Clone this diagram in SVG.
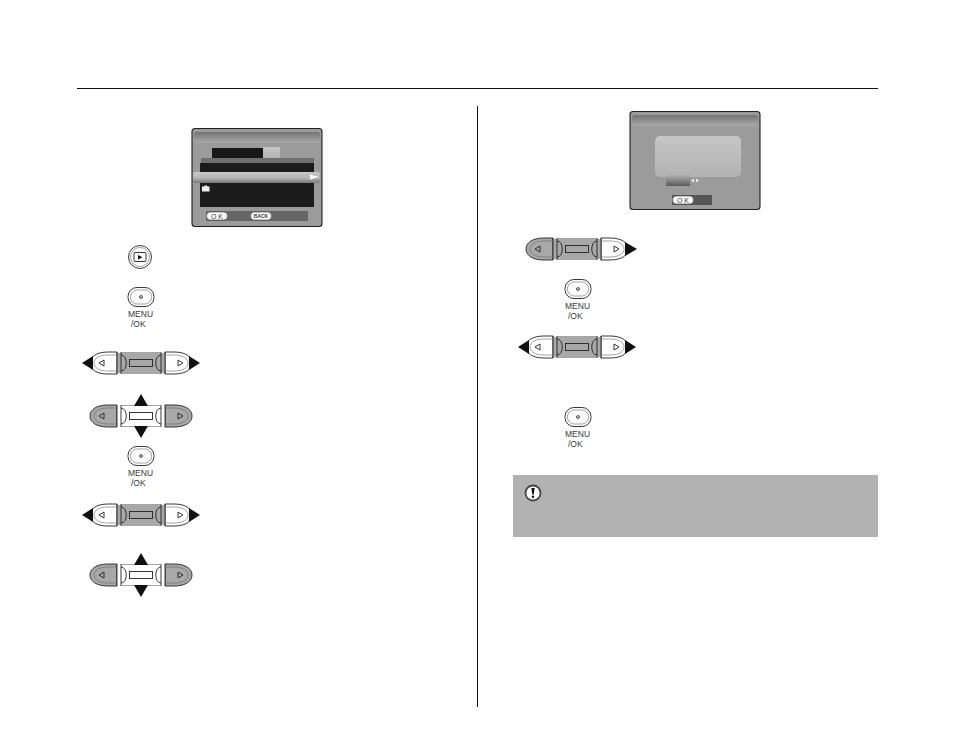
<svg xmlns="http://www.w3.org/2000/svg" width="954" height="754" viewBox="0 0 954 754">
<style>
.l{stroke:#222;stroke-width:.9;fill:none}
.s{stroke:#222;stroke-width:.9}
.i{stroke:#666;stroke-width:.6;fill:none}
.g{fill:#a8a8a8}
.w{fill:#fff}
.a{fill:#111}
.m{font-family:"Liberation Sans",Arial,sans-serif;font-size:8.500px;fill:#333}
.k{fill:#fff;stroke:#444;stroke-width:.6}
.o{font-family:"Liberation Sans",Arial,sans-serif;font-size:7px;fill:#333;text-anchor:middle}
.b{font-size:5px;font-weight:bold}
</style>
<defs>
<linearGradient id="bar" x1="0" y1="0" x2="0" y2="1"><stop offset="0" stop-color="#747474"/><stop offset=".5" stop-color="#8e8e8e"/><stop offset="1" stop-color="#aaa"/></linearGradient>
<linearGradient id="hl" x1="0" y1="0" x2="0" y2="1"><stop offset="0" stop-color="#c8c8c8"/><stop offset=".55" stop-color="#b4b4b4"/><stop offset="1" stop-color="#777"/></linearGradient>
<linearGradient id="dk" x1="0" y1="0" x2="0" y2="1"><stop offset="0" stop-color="#b0b0b0"/><stop offset="1" stop-color="#5c5c5c"/></linearGradient>
<linearGradient id="pn" x1="0" y1="0" x2="0" y2="1"><stop offset="0" stop-color="#c6c6c6"/><stop offset="1" stop-color="#b2b2b2"/></linearGradient>
<path id="capL" d="M-24-11H-33C-45-11-51-6-51 0S-45 11-33 11H-24V-11Z"/>
<path id="capR" d="M24-11H33C45-11 51-6 51 0S45 11 33 11H24V-11Z"/>
<g id="det">
<path class="l" d="M-24-11V11M-20-11V11M24-11V11M20-11V11"/>
<path class="l" d="M-20-8C-13-8-13 8-20 8M20-8C13-8 13 8 20 8"/>
<path class="i" d="M-24-8H-33C-43-8-47-4-47 0S-43 8-33 8H-24M24-8H33C43-8 47-4 47 0S43 8 33 8H24"/>
<path class="l" stroke-linejoin="round" d="M-37-3L-42 0L-37 3ZM37-3L42 0L37 3Z"/>
<path class="i" d="M-20-10.500H20M-20 10.500H20"/>
</g>
<g id="padH">
<use href="#capL" class="w s"/><use href="#capR" class="w s"/>
<rect class="g" x="-24" y="-10" width="48" height="20"/>
<use href="#det"/>
<rect class="g s" x="-11.500" y="-3.500" width="23" height="7"/>
<path class="a" d="M-48-7V7L-59 0ZM48-7V7L59 0Z"/>
</g>
<g id="padV">
<use href="#capL" class="g s"/><use href="#capR" class="g s"/>
<rect class="w" x="-24" y="-11" width="48" height="22"/>
<use href="#det"/>
<rect class="w s" x="-11.500" y="-3.500" width="23" height="7"/>
<path class="a" d="M-7-10H7L0-22ZM-7 10H7L0 22Z"/>
</g>
<g id="menu">
<rect class="w s" x="-13" y="-9.500" width="26" height="19" rx="9"/>
<rect class="i" x="-10.500" y="-7" width="21" height="14" rx="6.500"/>
<circle class="l" cx="0" cy="0" r="1.400" stroke-width=".6"/>
<g opacity=".97"><text class="m" x="-13" y="20">MENU</text>
<text class="m" x="-10" y="29.500">/OK</text></g>
</g>
<g id="okb"><rect class="k" x="-10.500" y="-4" width="21" height="8" rx="4"/></g>
</defs>
<rect width="954" height="754" fill="#fff"/>
<g id="connectors"/>
<g id="rules">
<rect x="77" y="88" width="801" height="1" fill="#111"/>
<rect x="477" y="106" width="1" height="601" fill="#111"/>
</g>
<g id="screen-left">
<rect x="192" y="128.500" width="130" height="98" rx="3" fill="#9b9b9b" stroke="#222" stroke-width="1.100"/>
<rect x="194" y="132" width="126" height="11" rx="2" fill="url(#bar)"/>
<rect x="212" y="148" width="51" height="11" fill="#181818"/>
<rect x="263" y="147" width="17" height="12" fill="url(#pn)"/>
<rect x="201" y="158" width="113" height="5" fill="#6e6e6e"/>
<rect x="200" y="163" width="114" height="44" fill="#1c1c1c"/>
<rect x="193" y="172" width="127" height="11" rx="2" fill="url(#hl)"/>
<path d="M310 174.500L319 177L310 179.500Z" fill="#fff"/>
<path d="M202 186.500h2l.8-1h2l.8 1h1.900v5h-7.500Z" fill="#eee"/>
<rect x="206" y="211" width="102" height="10" fill="#666"/>
<use href="#okb" x="217" y="216"/>
<use href="#okb" x="261" y="216"/>
<g opacity=".97"><text class="o" x="217" y="218.500">O K</text>
<text class="o b" x="261" y="217.800">BACK</text></g>
</g>
<g id="screen-right">
<rect x="630" y="111.500" width="130" height="98" rx="3" fill="#9b9b9b" stroke="#222" stroke-width="1.100"/>
<rect x="632" y="115" width="126" height="11" rx="2" fill="url(#bar)"/>
<rect x="655" y="136" width="86" height="41" rx="5" fill="url(#pn)"/>
<rect x="666" y="175" width="24" height="11" fill="url(#dk)"/>
<path d="M694 178.500V182.500L691 180.500ZM696 178.500V182.500L699 180.500Z" fill="#eee"/>
<rect x="672" y="195" width="40" height="10" fill="#555"/>
<use href="#okb" x="683" y="200"/>
<g opacity=".97"><text class="o" x="683" y="202.500">O K</text></g>
</g>
<g id="btn-play">
<circle class="l" cx="140" cy="257" r="11.500"/>
<circle class="i" cx="140" cy="257" r="9.500"/>
<rect class="l" x="134" y="252.500" width="12" height="9" rx="1"/>
<path class="a" d="M138 255V259.500L142.500 257.200Z"/>
</g>
<g id="btn-menu-1"><use href="#menu" x="141" y="297"/></g>
<g id="pad-1"><use href="#padH" x="141" y="363"/></g>
<g id="pad-2"><use href="#padV" x="141" y="416"/></g>
<g id="btn-menu-2"><use href="#menu" x="141" y="456"/></g>
<g id="pad-3"><use href="#padH" x="141" y="515"/></g>
<g id="pad-4"><use href="#padV" x="141" y="575"/></g>
<g id="pad-5">
<use href="#capL" x="577" y="249" class="g s"/><use href="#capR" x="577" y="249" class="w s"/>
<rect class="g" x="553" y="239" width="48" height="20"/>
<use href="#det" x="577" y="249"/>
<rect class="g s" x="565.500" y="245.500" width="23" height="7"/>
<path class="a" d="M625 242V256L637 249Z"/>
</g>
<g id="btn-menu-3"><use href="#menu" x="578" y="289"/></g>
<g id="pad-6"><use href="#padH" x="577" y="347"/></g>
<g id="btn-menu-4"><use href="#menu" x="578" y="417"/></g>
<g id="note">
<rect x="513" y="475" width="365" height="62" fill="#b2b2b2"/>
<circle cx="533" cy="493" r="7.500" fill="#fff" stroke="#444" stroke-width="1.800"/>
<path d="M531.300 488H534.700L533.700 494.500H532.300Z" fill="#111"/>
<circle cx="533" cy="496.800" r="1.200" fill="#111"/>
</g>
</svg>
